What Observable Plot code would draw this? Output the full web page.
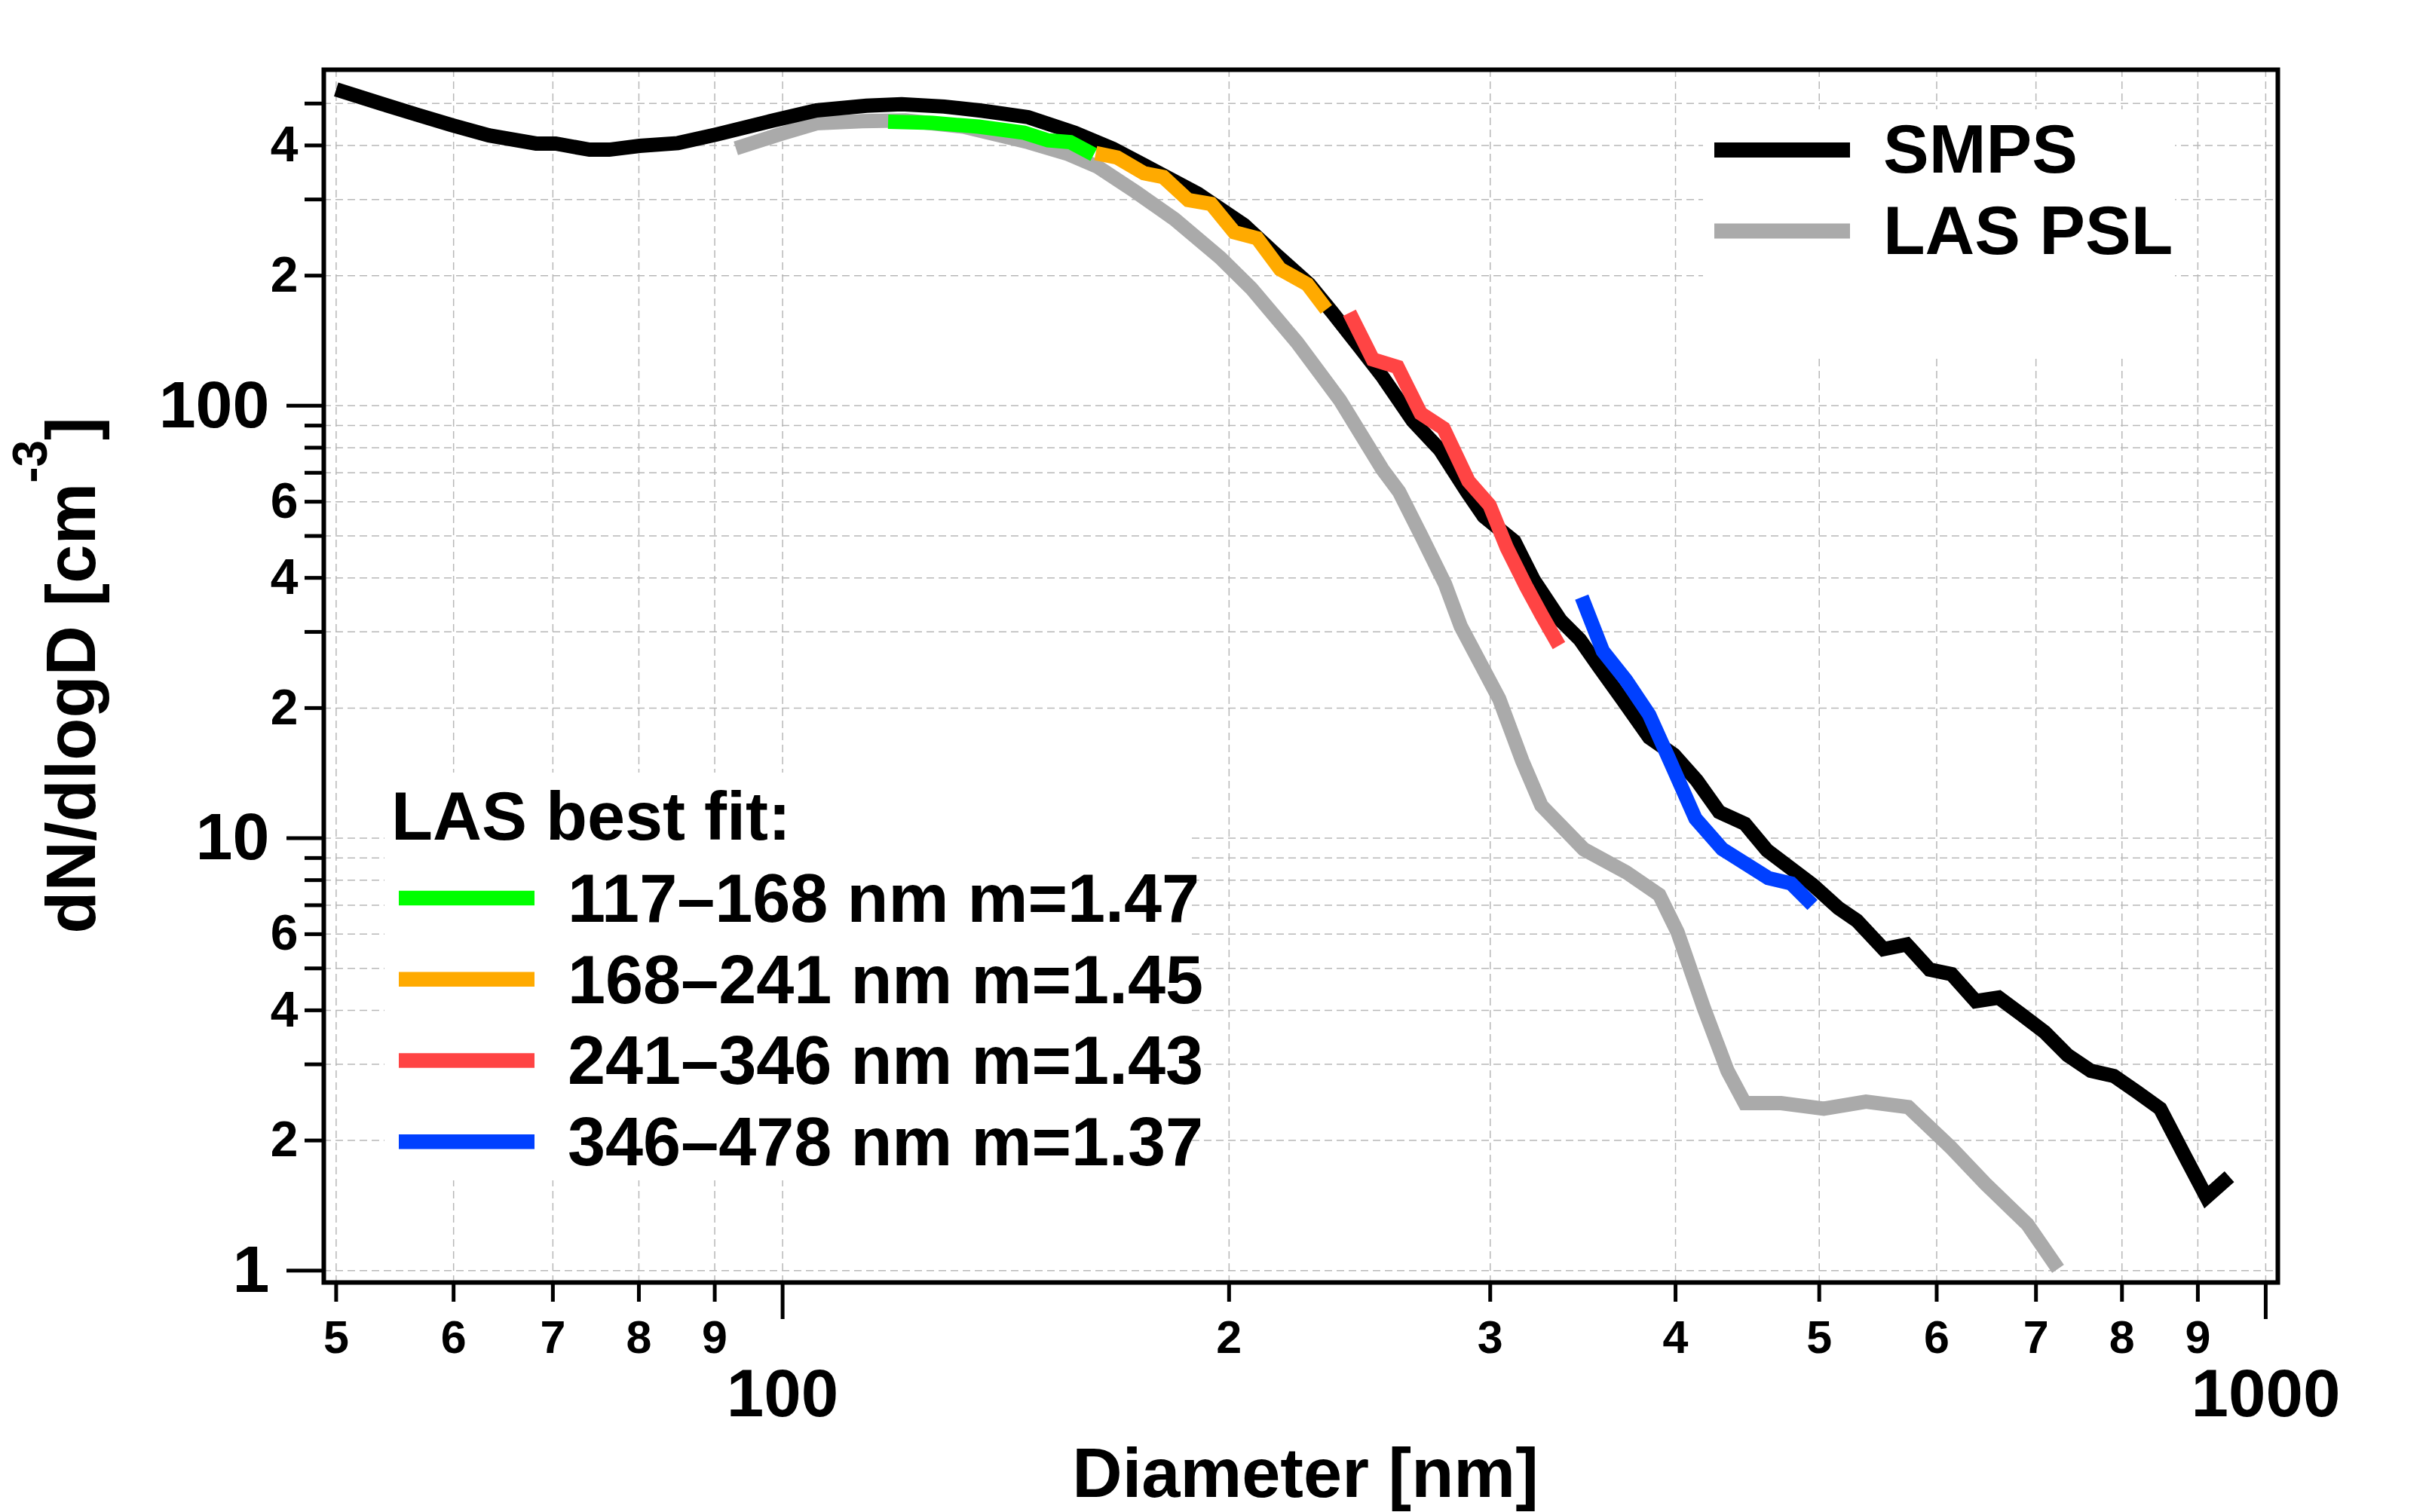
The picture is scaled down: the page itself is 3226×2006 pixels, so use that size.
<!DOCTYPE html>
<html>
<head>
<meta charset="utf-8">
<script src="https://cdn.jsdelivr.net/npm/d3@7"></script>
<script src="https://cdn.jsdelivr.net/npm/@observablehq/plot@0.6"></script>
<style>
  html, body { margin: 0; padding: 0; background: #fff; overflow: hidden; }
  #chart svg { display: block; }
</style>
</head>
<body>
<div id="chart"></div>
<script>
// SMPS size distribution (diameter nm, dN/dlogD cm^-3)
const smpsD = [50.0, 53.7, 56.6, 59.8, 63.4, 68.2, 70.3, 74.1, 76.4, 80.1, 85.0, 90.2, 98.1, 105.4, 113.9, 120.3,
  128.5, 136.4, 146.4, 157.4, 167.0, 179.5, 190.6, 204.7, 214.7, 226.5, 234.6, 244.8, 253.7, 266.0, 277.4, 289.3,
  297.0, 311.4, 320.9, 334.6, 344.8, 355.2, 368.1, 384.0, 399.0, 413.4, 428.0, 445.5, 461.0, 495.0, 515.0, 530.0,
  552.5, 572.7, 593.4, 614.0, 637.5, 660.6, 684.6, 709.6, 735.2, 762.2, 790.0, 818.9, 848.9, 879.9, 912.1, 945.1]
const smpsN = [539, 499, 472, 446, 422, 404, 404, 391, 391, 399, 405, 424, 455, 482, 494, 498,
  492, 481, 465, 428, 393, 345, 309, 262, 225, 191, 165, 137, 117, 92.3, 79.2, 63.3,
  55.5, 48.6, 39.6, 31.9, 28.8, 24.9, 21.0, 17.1, 15.6, 13.6, 11.5, 10.8, 9.38, 7.8, 6.9, 6.45,
  5.54, 5.68, 4.97, 4.85, 4.20, 4.28, 3.91, 3.56, 3.15, 2.90, 2.82, 2.59, 2.37, 1.87, 1.48, 1.65]

// LAS with PSL calibration
const lasD = [93.0, 99.9, 105.4, 113.2, 121.0, 132.4, 146.4, 155.5, 163.1, 173.1, 183.8, 197.3, 207.0, 222.3,
  237.6, 253.7, 260.4, 269.9, 279.7, 286.6, 304.2, 315.3, 324.8, 346.9, 370.4, 390.0, 401.3, 418.2, 433.6,
  445.4, 471.2, 503.5, 537.6, 574.1, 613.1, 647.0, 690.8, 724.4]
const lasN = [394, 426, 450, 455, 457, 442, 407, 383, 357, 312, 270, 220, 187, 140,
  103, 71.4, 63.3, 49.6, 38.7, 30.9, 21.0, 15.1, 11.9, 9.43, 8.35, 7.4, 6.06, 4.03, 2.90,
  2.44, 2.44, 2.37, 2.46, 2.39, 1.93, 1.59, 1.28, 1.01]

// LAS best fit segments
const fitRanges = ['117–168', '168–241', '241–346', '346–478']
const fitM = ['1.47', '1.45', '1.43', '1.37']
const fitColors = ['#00ff00', '#ffaa00', '#ff4444', '#0040ff']
const fitD = [
  [117.8, 126.2, 135.6, 145.5, 151.0, 156.3, 162.1],
  [162.6, 168.1, 175.2, 180.6, 187.7, 194.5, 201.6, 208.9, 216.5, 225.8, 232.6],
  [241.1, 250.0, 259.8, 269.3, 279.0, 290.0, 299.7, 307.8, 317.1, 324.8, 333.8],
  [345.8, 357.3, 370.4, 384.0, 395.5, 412.6, 430.1, 461.9, 478.6, 494.8]
]
const fitN = [
  [454, 451, 442, 428, 411, 407, 381],
  [384, 375, 345, 338, 299, 293, 252, 244, 207, 191, 167],
  [164, 128, 122.9, 96, 88.7, 67, 58.9, 47, 38.3, 32.9, 27.9],
  [36.1, 27.1, 23.2, 19.3, 15.4, 11.1, 9.44, 8.09, 7.86, 7.01]
]

const seriesNames = ['SMPS', 'LAS PSL']
const seriesColors = ['black', '#aaaaaa']

// ticks
const xMajor = [100, 1000]
const xMinor = [50, 60, 70, 80, 90, 200, 300, 400, 500, 600, 700, 800, 900]
const xMinorLabels = ['5', '6', '7', '8', '9', '2', '3', '4', '5', '6', '7', '8', '9']
const yMajor = [1, 10, 100]
const yLabeled = [2, 4, 6, 20, 40, 60, 200, 400]
const yLabeledText = ['2', '4', '6', '2', '4', '6', '2', '4']
const yOther = [3, 5, 7, 8, 9, 30, 50, 70, 80, 90, 300, 500]

const FONT = '"Liberation Sans", Arial, Helvetica, sans-serif'
const xLab = new Map(xMinor.map((t, i) => [t, xMinorLabels[i]]))
const yLab = new Map(yLabeled.map((t, i) => [t, yLabeledText[i]]))
const pts = (xs, ys) => xs.map((x, i) => ({x, y: ys[i]}))

const grid = {stroke: '#b8b8b8', strokeOpacity: 1, strokeWidth: 1.5, strokeDasharray: '10,6'}
const lineStyle = {x: 'x', y: 'y', strokeWidth: 19, strokeLinejoin: 'miter', strokeLinecap: 'butt', strokeMiterlimit: 4}
const tickStyle = {strokeWidth: 5, label: null}

const chart = Plot.plot({
  width: 3226,
  height: 2006,
  marginLeft: 429,
  marginRight: 205,
  marginTop: 92,
  marginBottom: 305,
  style: {fontFamily: FONT, fontWeight: 'bold', color: 'black', background: 'white', overflow: 'visible'},
  x: {type: 'log', domain: [49.05, 1019]},
  y: {type: 'log', domain: [0.939, 598.6]},
  marks: [
    Plot.gridX([...xMinor, ...xMajor], grid),
    Plot.gridY([...yOther, ...yLabeled, ...yMajor], grid),
    Plot.line(pts(lasD, lasN), {...lineStyle, stroke: seriesColors[1]}),
    Plot.line(pts(smpsD, smpsN), {...lineStyle, stroke: seriesColors[0]}),
    ...fitD.map((d, i) => Plot.line(pts(d, fitN[i]), {...lineStyle, stroke: fitColors[i]})),
    Plot.frame({stroke: 'black', strokeWidth: 6}),
    Plot.axisX(xMinor, {...tickStyle, tickSize: 26, tickPadding: 24, fontSize: 61, tickFormat: d => xLab.get(d)}),
    Plot.axisX(xMajor, {...tickStyle, tickSize: 49, tickPadding: 65, fontSize: 89, tickFormat: d => String(d)}),
    Plot.axisY(yMajor, {...tickStyle, tickSize: 49, tickPadding: 23, fontSize: 88, tickFormat: d => String(d)}),
    Plot.axisY(yLabeled, {...tickStyle, tickSize: 25, tickPadding: 9, fontSize: 66, tickFormat: d => yLab.get(d)}),
    Plot.axisY(yOther, {...tickStyle, tickSize: 25, tickFormat: () => ''}),
    Plot.text(['Diameter [nm]'], {frameAnchor: 'bottom', dy: 284, dx: 6, lineAnchor: 'bottom', fontSize: 92, fill: 'black'})
  ]
})

document.getElementById('chart').append(chart)
const svg = d3.select(chart)

// y title with superscript
const yt = svg.append('text')
  .attr('transform', 'translate(126,896) rotate(-90)')
  .attr('text-anchor', 'middle')
  .attr('font-size', 92)
  .attr('fill', 'black')
yt.append('tspan').text('dN/dlogD [cm')
yt.append('tspan').attr('font-size', 64).attr('dy', -64).text('-3')
yt.append('tspan').attr('dy', 64).text(']')

// legend top right
const lg1 = svg.append('g').attr('text-anchor', 'start')
lg1.append('rect').attr('x', 2259).attr('y', 145).attr('width', 626).attr('height', 329).attr('fill', 'white')
seriesNames.forEach((name, i) => {
  lg1.append('line')
    .attr('x1', 2274).attr('x2', 2454)
    .attr('y1', 199 + i * 107.6).attr('y2', 199 + i * 107.6)
    .attr('stroke', seriesColors[i]).attr('stroke-width', 20)
  lg1.append('text')
    .attr('x', 2498).attr('y', 229 + i * 108)
    .attr('font-size', 91).attr('fill', 'black')
    .text(name)
})

// legend bottom left
const lg2 = svg.append('g').attr('text-anchor', 'start')
lg2.append('rect').attr('x', 510).attr('y', 1025).attr('width', 1070).attr('height', 541).attr('fill', 'white')
lg2.append('text').attr('x', 519).attr('y', 1114).attr('font-size', 90).attr('fill', 'black').text('LAS best fit:')
fitRanges.forEach((r, i) => {
  lg2.append('line')
    .attr('x1', 529).attr('x2', 709)
    .attr('y1', 1191.4 + i * 107.8).attr('y2', 1191.4 + i * 107.8)
    .attr('stroke', fitColors[i]).attr('stroke-width', 19.5)
  lg2.append('text')
    .attr('x', 753).attr('y', 1222.7 + i * 107.8)
    .attr('font-size', 90).attr('fill', 'black')
    .text(`${r} nm m=${fitM[i]}`)
})
</script>
</body>
</html>
